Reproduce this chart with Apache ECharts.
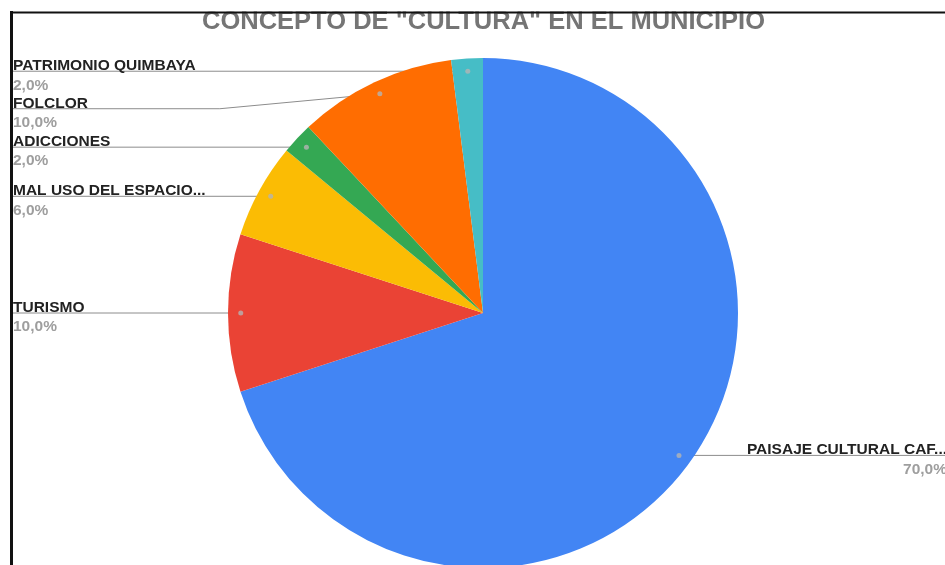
<!DOCTYPE html>
<html><head><meta charset="utf-8">
<script src="https://cdn.jsdelivr.net/npm/echarts@6/dist/echarts.min.js"></script>
<style>html,body{margin:0;padding:0;overflow:hidden;background:#fff}#c{width:960px;height:565px}</style>
</head><body><div id="c"></div>
<script>
const TITLE = 'CONCEPTO DE "CULTURA" EN EL MUNICIPIO';
const categories = ['PAISAJE CULTURAL CAF...', 'TURISMO', 'MAL USO DEL ESPACIO...', 'ADICCIONES', 'FOLCLOR', 'PATRIMONIO QUIMBAYA'];
const values = [70, 10, 6, 2, 10, 2];
const colors = ['#4285F4', '#EA4335', '#FBBC04', '#34A853', '#FF6D01', '#46BDC6'];

const FONT = '"Liberation Sans", Arial, sans-serif';
const CX = 483, CY = 313, R = 255, DOT = 0.95, TEXT_SHIFT = 8.5;
const total = values.reduce((a, b) => a + b, 0);
const fmtPct = v => (v / total * 100).toFixed(1).replace('.', ',') + '%';
let acc = 0;
const dots = values.map(v => { const m = acc + v / 2; acc += v; return [DOT, m / total * 100]; });

const chart = echarts.init(document.getElementById('c'));
chart.setOption({
  animation: false,
  title: { text: TITLE, left: 197, top: 4,
    textStyle: { fontFamily: FONT, fontSize: 25.5, fontWeight: 'bold', color: '#757575' } },
  polar: { center: [CX, CY], radius: R },
  angleAxis: { type: 'value', min: 0, max: 100, startAngle: 90, clockwise: true, show: false },
  radiusAxis: { type: 'value', min: 0, max: 1, show: false },
  graphic: [
    { type: 'rect', shape: { x: 0, y: 0, width: 960, height: 11.5 }, style: { fill: '#fff' }, z: 100 },
    { type: 'line', shape: { x1: 10, y1: 12.5, x2: 960, y2: 12.5 }, style: { stroke: '#111', lineWidth: 2 }, z: 101 },
    { type: 'line', shape: { x1: 11.5, y1: 11, x2: 11.5, y2: 565 }, style: { stroke: '#111', lineWidth: 3 }, z: 101 }
  ],
  series: [{
    type: 'pie',
    center: [CX, CY],
    radius: R,
    startAngle: 90,
    clockwise: true,
    avoidLabelOverlap: true,
    emphasis: { disabled: true },
    itemStyle: { borderWidth: 0 },
    data: categories.map((c, i) => ({ name: c, value: values[i], itemStyle: { color: colors[i] } })),
    label: {
      show: true, position: 'outside', alignTo: 'edge', edgeDistance: 13, distanceToLabelLine: 0,
      formatter: p => '{n|' + p.name + '}\n{v|' + fmtPct(p.value) + '}',
      rich: {
        n: { fontFamily: FONT, fontSize: 15.5, fontWeight: 'bold', color: '#222', lineHeight: 11 },
        v: { fontFamily: FONT, fontSize: 15.5, fontWeight: 'bold', color: '#9e9e9e', lineHeight: 28 }
      }
    },
    labelLine: { show: true, length: -R * (1 - DOT), length2: 0, minTurnAngle: 0, maxSurfaceAngle: 180,
      lineStyle: { color: '#8c8c8c', width: 1 } },
    labelLayout: function (p) {
      const pts = p.labelLinePoints;
      if (!pts) return {};
      const ex = pts[0][0], ey = pts[0][1];
      const k = DOT / (Math.hypot(ex - CX, ey - CY) / R);
      const dx = CX + (ex - CX) * k, dy = CY + (ey - CY) * k;
      const ly = pts[2][1];
      const left = p.labelRect.x + p.labelRect.width / 2 < CX;
      const endX = left ? p.labelRect.x : p.labelRect.x + p.labelRect.width;
      const bx = Math.abs(ly - dy) < 3 ? dx : (left ? dx - 160 : dx + 160);
      return { dy: TEXT_SHIFT, labelLinePoints: [[dx, dy], [bx, ly], [endX, ly]] };
    }
  }, {
    type: 'scatter',
    coordinateSystem: 'polar',
    silent: true,
    symbolSize: 5,
    itemStyle: { color: '#b4b4b4' },
    data: dots,
    z: 5
  }]
});
</script></body></html>
